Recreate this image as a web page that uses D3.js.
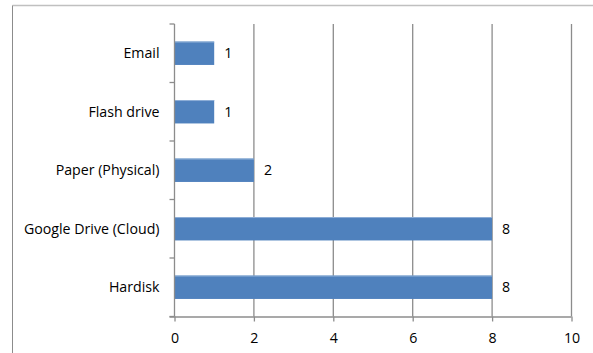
<!DOCTYPE html>
<html>
<head>
<meta charset="utf-8">
<script src="https://cdn.jsdelivr.net/npm/d3@7"></script>
<style>
  html, body { margin: 0; padding: 0; background: #fff; }
  svg { display: block; }
  text { font-family: "Open Sans", Lato, sans-serif; fill: #000; }
</style>
</head>
<body>
<svg id="chart" width="593" height="353"></svg>
<script>
const categories = ["Email", "Flash drive", "Paper (Physical)", "Google Drive (Cloud)", "Hardisk"];
const values = [1, 1, 2, 8, 8];
const xTicks = [0, 2, 4, 6, 8, 10];

(function () {
const svg = d3.select("#chart");
const W = 593, H = 353;
const mLeft = 174.5, mRight = 571.5, mTop = 24, mBottom = 316.5;
const FONT = "'Open Sans', Lato, sans-serif";
const FS = 14.2;

// outer frame (clipped at right and bottom)
svg.append("line").attr("x1", 12.5).attr("x2", W).attr("y1", 5.5).attr("y2", 5.5)
  .attr("stroke", "#c0c0c0").attr("stroke-width", 1.5);
svg.append("line").attr("x1", 12.5).attr("x2", 12.5).attr("y1", 5.5).attr("y2", H)
  .attr("stroke", "#8c8c8c").attr("stroke-width", 1);

const x = d3.scaleLinear().domain([0, 10]).range([mLeft, mRight]);
const y = d3.scaleBand().domain(categories).range([mTop, mBottom]).paddingInner(0.6).paddingOuter(0.3);

// gridlines
svg.append("g").selectAll("line").data(xTicks.filter(d => d > 0)).join("line")
  .attr("x1", d => x(d)).attr("x2", d => x(d))
  .attr("y1", mTop).attr("y2", mBottom)
  .attr("stroke", "#8c8c8c").attr("stroke-width", 1.3);

// bars
svg.append("g").selectAll("rect").data(categories).join("rect")
  .attr("x", x(0))
  .attr("y", d => y(d))
  .attr("width", (d, i) => x(values[i]) - x(0))
  .attr("height", y.bandwidth())
  .attr("fill", "#4f81bd");
svg.append("g").selectAll("line").data(categories).join("line")
  .attr("x1", x(0)).attr("x2", (d, i) => x(values[i]))
  .attr("y1", d => y(d) + 0.5).attr("y2", d => y(d) + 0.5)
  .attr("stroke", "#8fb0d8").attr("stroke-width", 1);

// value labels
svg.append("g").selectAll("text").data(categories).join("text")
  .attr("x", (d, i) => x(values[i]) + 10)
  .attr("y", d => y(d) + y.bandwidth() / 2)
  .attr("dy", "0.35em")
  .attr("font-size", FS)
  .text((d, i) => values[i]);

// x axis
const xAxis = d3.axisBottom(x).tickValues(xTicks).tickSize(5).tickPadding(11.5).tickFormat(d3.format("d"));
const gx = svg.append("g").attr("transform", `translate(0,${mBottom})`).call(xAxis);
gx.select(".domain").attr("d", `M${mLeft - 5},0.5H${mRight}`).attr("stroke", "#8c8c8c").attr("stroke-width", 1.3);
gx.selectAll(".tick line").attr("stroke", "#8c8c8c").attr("stroke-width", 1.3);
gx.selectAll(".tick text").attr("font-size", FS).attr("font-family", FONT).attr("fill", "#000");

// y axis: line and boundary ticks
const boundaries = d3.range(categories.length + 1).map(i => mTop + i * (mBottom - mTop) / categories.length);
svg.append("line").attr("x1", mLeft).attr("x2", mLeft).attr("y1", mTop).attr("y2", mBottom)
  .attr("stroke", "#8c8c8c").attr("stroke-width", 1.3);
svg.append("g").selectAll("line").data(boundaries).join("line")
  .attr("x1", mLeft - 5).attr("x2", mLeft)
  .attr("y1", d => d).attr("y2", d => d)
  .attr("stroke", "#8c8c8c").attr("stroke-width", 1.3);

// category labels
svg.append("g").selectAll("text").data(categories).join("text")
  .attr("x", 159.5)
  .attr("y", d => y(d) + y.bandwidth() / 2)
  .attr("dy", "0.35em")
  .attr("text-anchor", "end")
  .attr("font-size", FS)
  .text(d => d);
})();
</script>
</body>
</html>
